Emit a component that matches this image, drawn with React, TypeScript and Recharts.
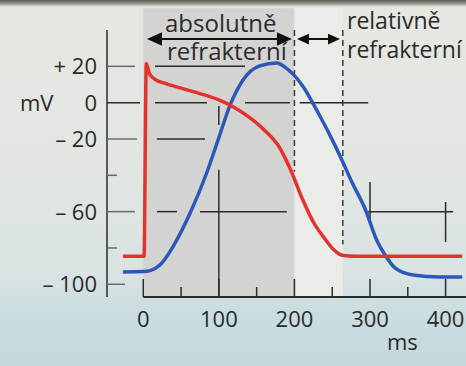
import React from 'react';
import {
  ComposedChart,
  Line,
  XAxis,
  YAxis,
  ReferenceArea,
  ReferenceLine,
} from 'recharts';

// membrane potential (red), mV over ms
const apTimes = [-27, 1, 4, 8, 15, 30, 50, 75, 100, 120, 140, 160, 180, 187, 195, 210, 225, 240, 252, 265, 280, 350, 422];
const apValues = [-84.6, -84.6, 21.6, 16, 13, 10.5, 8, 5, 1.5, -2.5, -8, -15, -24.5, -30, -37, -52.5, -65.7, -74.8, -81, -84.2, -84.6, -84.6, -84.6];

// contraction curve (blue), drawn on the same mV scale
const forceTimes = [-27, 0, 10, 22, 39, 62, 84, 99, 115, 132, 154, 177, 187, 210, 231, 254, 264, 276, 293, 310, 320, 333, 357, 392, 422];
const forceValues = [-93.2, -93, -92.3, -89.4, -79.5, -60.8, -38.6, -20.5, -1.2, 12.5, 20.2, 21.9, 19.7, 9.7, -5.3, -23.8, -32.7, -43.7, -58, -76.7, -83.9, -91, -94.9, -96, -96];

const xTicks = [0, 50, 100, 150, 200, 250, 300, 350, 400];
const yTicks = [-100, -80, -60, -40, -20, 0, 20];
const yTickLabels: Record<number, string> = { 20: '+ 20', 0: '0', '-20': '– 20', '-60': '– 60', '-100': '– 100' };
const yTickLength: Record<number, number> = { 20: 28, 0: 33, '-20': 30, '-40': 10, '-60': 28, '-80': 10, '-100': 18 };

const absoluteEnd = 200;
const relativeEnd = 264;

// loose scale guides of the textbook figure
const hGuides = [
  { y: 20, x1: 15.5, x2: 134.6 },
  { y: 0, x1: 15.5, x2: 84.3 },
  { y: 0, x1: 134.6, x2: 194 },
  { y: 0, x1: 207, x2: 297.6 },
  { y: -20, x1: 18, x2: 81.6 },
  { y: -60, x1: 18, x2: 44.6 },
  { y: -60, x1: 75, x2: 190 },
  { y: -60, x1: 296, x2: 410 },
];
const vGuides = [
  { x: 100, y1: -1.9, y2: -12.3 },
  { x: 100, y1: -37, y2: -107 },
  { x: 300, y1: -43.7, y2: -65.7 },
  { x: 400, y1: -54.7, y2: -76.7 },
];

const apData = apTimes.map((t, i) => ({ t, v: apValues[i] }));
const forceData = forceTimes.map((t, i) => ({ t, v: forceValues[i] }));

const FONT = "'Open Sans', sans-serif";
const INK = '#2b2b2b';

const XTick = (props: any) => {
  const { x, y, payload } = props;
  const major = payload.value % 100 === 0;
  return (
    <g>
      <line x1={x} x2={x} y1={y} y2={y - (major ? 18 : 10)} stroke={INK} strokeWidth={1.5} />
      {major && (
        <text x={x} y={y + 30} textAnchor="middle" fontSize={22} fontFamily={FONT} fill={INK}>
          {payload.value}
        </text>
      )}
    </g>
  );
};

const YTick = (props: any) => {
  const { x, y, payload } = props;
  const label = yTickLabels[payload.value];
  return (
    <g>
      <line x1={x} x2={x + (yTickLength[payload.value] || 10)} y1={y} y2={y} stroke={payload.value === 0 ? INK : '#6b6b6b'} strokeWidth={1.5} />
      {label && (
        <text x={x - 10} y={y + 8} textAnchor="end" fontSize={22} fontFamily={FONT} fill={INK}>
          {label}
        </text>
      )}
    </g>
  );
};

const arrowShape = (head: number) => (props: any) => {
  const { x1, y1, x2 } = props;
  const h = head * 0.45;
  return (
    <g>
      <line x1={x1 + 4} x2={x2 - 4} y1={y1} y2={y1} stroke="#111" strokeWidth={2} />
      <polygon points={`${x1},${y1} ${x1 + head},${y1 - h} ${x1 + head},${y1 + h}`} fill="#111" />
      <polygon points={`${x2},${y1} ${x2 - head},${y1 - h} ${x2 - head},${y1 + h}`} fill="#111" />
    </g>
  );
};

export default function App() {
  return (
    <div
      style={{
        position: 'absolute',
        left: 0,
        top: 0,
        width: 466,
        height: 366,
        overflow: 'hidden',
        background: 'linear-gradient(180deg, #5e5c54 0px, #8a8880 3px, #e6e7e1 7px, #e2e6e2 45%, #d9e3e3 75%, #cadde0 85%, #c4d9dd 100%)',
      }}
    >
      <ComposedChart width={466} height={366} margin={{ top: 30, right: 0, bottom: 0, left: 0 }}>
        <XAxis
          type="number"
          dataKey="t"
          domain={[-48, 427]}
          ticks={xTicks}
          axisLine={false}
          tickLine={false}
          tickSize={0}
          tickMargin={0}
          height={69}
          tick={XTick}
          allowDataOverflow
        />
        <YAxis
          type="number"
          dataKey="v"
          domain={[-107, 40]}
          ticks={yTicks}
          width={107}
          tickLine={false}
          tickSize={0}
          tickMargin={0}
          axisLine={{ stroke: INK, strokeWidth: 1.5 }}
          tick={YTick}
          allowDataOverflow
        />
        <ReferenceArea x1={0} x2={absoluteEnd} y1={-107} y2={52} fill="#d3d4d2" fillOpacity={1} stroke="none" ifOverflow="visible" />
        <ReferenceArea x1={absoluteEnd} x2={relativeEnd} y1={-107} y2={52} fill="#ebebe7" fillOpacity={1} stroke="none" ifOverflow="visible" />
        {hGuides.map((g, i) => (
          <ReferenceLine key={`h${i}`} segment={[{ x: g.x1, y: g.y }, { x: g.x2, y: g.y }]} stroke={INK} strokeWidth={1.5} />
        ))}
        {vGuides.map((g, i) => (
          <ReferenceLine key={`v${i}`} segment={[{ x: g.x, y: g.y1 }, { x: g.x, y: g.y2 }]} stroke={INK} strokeWidth={1.5} />
        ))}
        <ReferenceLine segment={[{ x: 0, y: -107 }, { x: 427, y: -107 }]} stroke={INK} strokeWidth={2} />
        <ReferenceLine segment={[{ x: absoluteEnd, y: 40 }, { x: absoluteEnd, y: -38 }]} stroke="#3a3a3a" strokeWidth={1.5} strokeDasharray="6 4" />
        <ReferenceLine segment={[{ x: relativeEnd, y: 40 }, { x: relativeEnd, y: -78 }]} stroke="#3a3a3a" strokeWidth={1.5} strokeDasharray="6 4" />
        <ReferenceLine segment={[{ x: 4.9, y: 35 }, { x: 196.7, y: 35 }]} shape={arrowShape(15)} />
        <ReferenceLine segment={[{ x: 203.3, y: 35 }, { x: 260.3, y: 35 }]} shape={arrowShape(12)} />
        <Line data={forceData} dataKey="v" type="monotone" stroke="#2c58bb" strokeWidth={3.5} dot={false} isAnimationActive={false} />
        <Line data={apData} dataKey="v" type="monotone" stroke="#e4332c" strokeWidth={3.5} dot={false} isAnimationActive={false} />
      </ComposedChart>
      <svg width={466} height={366} style={{ position: 'absolute', left: 0, top: 0, pointerEvents: 'none' }}>
        <g fontFamily={FONT} fill={INK}>
          <text x={165} y={32} fontSize={24}>absolutně</text>
          <text x={167} y={60} fontSize={24}>refrakterní</text>
          <text x={347} y={29} fontSize={23}>relativně</text>
          <text x={347} y={58} fontSize={23}>refrakterní</text>
          <text x={20} y={111} fontSize={22}>mV</text>
          <text x={387} y={350} fontSize={22}>ms</text>
        </g>
      </svg>
    </div>
  );
}
